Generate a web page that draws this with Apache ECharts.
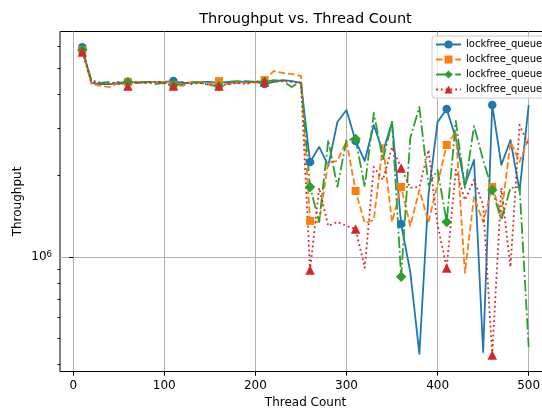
<!DOCTYPE html>
<html><head><meta charset="utf-8">
<script src="https://cdn.jsdelivr.net/npm/echarts@6/dist/echarts.min.js"></script>
<style>html,body{margin:0;padding:0;background:#fff}#c{width:542px;height:410px}</style>
</head><body><div id="c"></div><script>
const threads = [10,20,30,40,50,60,70,80,90,100,110,120,130,140,150,160,170,180,190,200,210,220,230,240,250,
  260,270,280,290,300,310,320,330,340,350,360,370,380,390,400,410,420,430,440,450,460,470,480,490,500];

const queueA = [5970000,4400000,4360000,4360000,4400000,4440000,4400000,4440000,4440000,4440000,4470000,4400000,4400000,4440000,4440000,4400000,4440000,4400000,4470000,4440000,4360000,4440000,4510000,4470000,4400000,
  2245000,2551000,2170000,3156000,3494000,2685000,2264000,3076000,2444000,3156000,1324000,880000,438000,1695000,3156000,3525000,2754000,1846000,2284000,445000,3646000,2189000,2707000,1754000,3646000];
const queueB = [5820000,4360000,4290000,4250000,4400000,4440000,4440000,4400000,4440000,4440000,4320000,4290000,4440000,4440000,4360000,4470000,4360000,4400000,4400000,4400000,4510000,4870000,4790000,4750000,4670000,
  1359000,1347000,2245000,2264000,2685000,1754000,1336000,1370000,2594000,1347000,1815000,1302000,1769000,1347000,1861000,2594000,2899000,873000,1667000,1347000,1815000,1430000,2662000,2245000,2754000];
const queueC = [5820000,4510000,4400000,4440000,4360000,4440000,4400000,4440000,4360000,4400000,4320000,4360000,4440000,4400000,4320000,4290000,4440000,4470000,4440000,4440000,4440000,4510000,4470000,4250000,4470000,
  1815000,1347000,2707000,1815000,2707000,2731000,1815000,3407000,2284000,3156000,844000,2754000,3585000,1846000,2097000,1347000,3183000,1800000,3050000,2284000,1769000,1370000,1800000,1815000,465000];
const queueD = [5730000,4440000,4400000,4360000,4440000,4290000,4440000,4400000,4440000,4400000,4290000,4440000,4360000,4400000,4320000,4290000,4360000,4400000,4360000,4470000,4440000,4440000,4470000,4440000,4400000,
  895000,1800000,1302000,1347000,1302000,1269000,911000,2151000,1926000,2551000,2133000,1800000,1815000,2487000,1313000,911000,2097000,1624000,1926000,1557000,434000,1800000,918000,3076000,2594000];

const seriesNames = ['lockfree_queue_1','lockfree_queue_2','lockfree_queue_3','lockfree_queue_4'];
const xTicks = [0,100,200,300,400,500];
const yMajorTicks = [1000000];
const yMinorTicks = [400000,500000,600000,700000,800000,900000,2000000,3000000,4000000,5000000,6000000];

const FONT = 'DejaVu Sans';
const Y_MIN = 377000, Y_MAX = 6820000;

function mk(name, vals, color, symbol, size, dash) {
  return {
    name: name, type: 'line', animation: false, showAllSymbol: true,
    symbol: symbol, symbolSize: size,
    data: threads.map(function (t, i) {
      return { value: [t, vals[i]], symbol: (i % 5 === 0) ? symbol : 'none' };
    }),
    lineStyle: { color: color, width: 1.8, type: dash, join: 'round', cap: 'butt' },
    itemStyle: { color: color, borderWidth: 0 },
    emphasis: { disabled: true }
  };
}

const chart = echarts.init(document.getElementById('c'), null, { renderer: 'canvas' });
chart.setOption({
  animation: false,
  backgroundColor: '#ffffff',
  textStyle: { fontFamily: FONT },
  graphic: [{
    type: 'text', x: 305.5, y: 19, z: 100,
    style: { text: 'Throughput vs. Thread Count', fontSize: 14.5, fontFamily: FONT, fill: '#000',
      textAlign: 'center', textVerticalAlign: 'middle' }
  }],
  grid: { left: 60, top: 31.5, width: 491, height: 340, show: true, borderColor: '#000', borderWidth: 1,
    containLabel: false, outerBoundsMode: 'none' },
  legend: {
    orient: 'vertical', left: 432, top: 36, itemWidth: 25, itemHeight: 10, itemGap: 4,
    padding: [3, 6, 3, 3],
    backgroundColor: 'rgba(255,255,255,0.8)', borderColor: '#cccccc', borderWidth: 1, borderRadius: 3,
    textStyle: { fontSize: 10, color: '#000', fontFamily: FONT, lineHeight: 11 },
    data: seriesNames
  },
  xAxis: {
    type: 'value', min: -14.5, max: 524.5,
    name: 'Thread Count', nameLocation: 'middle', nameGap: 25, nameMoveOverlap: false,
    nameTextStyle: { fontSize: 12, color: '#000', fontFamily: FONT },
    axisLine: { show: false },
    axisTick: { show: true, length: 4.2, customValues: xTicks, lineStyle: { color: '#000', width: 1 } },
    axisLabel: { customValues: xTicks, fontSize: 12, color: '#000', margin: 8, fontFamily: FONT },
    splitLine: { show: true, lineStyle: { color: '#b0b0b0', width: 1 } }
  },
  yAxis: [{
    type: 'log', logBase: 10, min: Y_MIN, max: Y_MAX, position: 'left',
    name: 'Throughput', nameLocation: 'middle', nameGap: 36, nameRotate: 90, nameMoveOverlap: false,
    nameTextStyle: { fontSize: 12, color: '#000', fontFamily: FONT },
    axisLine: { show: false },
    axisTick: { show: true, length: 4.2, customValues: yMajorTicks, lineStyle: { color: '#000', width: 1 } },
    axisLabel: {
      customValues: yMajorTicks, margin: 8, color: '#000',
      formatter: function (v) { return '{a|10}{b|' + Math.round(Math.log10(v)) + '}'; },
      rich: {
        a: { fontSize: 12, fontFamily: FONT, color: '#000', lineHeight: 14 },
        b: { fontSize: 8.5, fontFamily: FONT, color: '#000', lineHeight: 9, verticalAlign: 'top' }
      }
    },
    splitLine: { show: true, lineStyle: { color: '#b0b0b0', width: 1 } }
  }, {
    type: 'log', logBase: 10, min: Y_MIN, max: Y_MAX, position: 'left', offset: 0,
    axisLine: { show: false },
    axisTick: { show: true, length: 2.4, customValues: yMinorTicks, lineStyle: { color: '#000', width: 1 } },
    axisLabel: { show: false },
    splitLine: { show: false }
  }],
  series: [
    mk(seriesNames[0], queueA, '#1f77b4', 'circle', 8.5, 'solid'),
    mk(seriesNames[1], queueB, '#ff7f0e', 'rect', 8, [6.7, 2.9]),
    mk(seriesNames[2], queueC, '#2ca02c', 'path://M0,-1L1,0L0,1L-1,0Z', 10.5, [11.6, 2.9, 1.8, 2.9]),
    mk(seriesNames[3], queueD, '#d62728', 'triangle', 9.5, [1.8, 3.0])
  ]
});
</script></body></html>
